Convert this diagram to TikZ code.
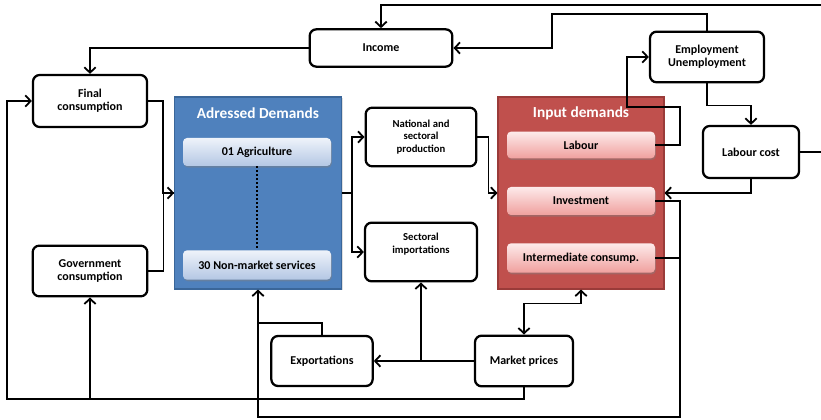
\documentclass[tikz,border=0pt]{standalone}
\usepackage{fontspec}
\setmainfont{Carlito}
\usetikzlibrary{arrows.meta,shadows}

\definecolor{adrblue}{HTML}{4F81BD}
\definecolor{adrblueline}{HTML}{3A6699}
\definecolor{inpred}{HTML}{C0504D}
\definecolor{inpredline}{HTML}{9A3B39}
\definecolor{skytop}{HTML}{EEF3FA}
\definecolor{skybot}{HTML}{B4C7E4}
\definecolor{rosetop}{HTML}{FDEAEA}
\definecolor{rosebot}{HTML}{F0A09E}

\tikzset{
	box/.style={draw=black, line width=1.7pt, rounded corners=5pt, fill=white,
		align=center, font=\fontsize{9}{10}\selectfont\bfseries, inner sep=2pt},
	group/.style={draw=#1line, fill=#1, line width=0.8pt,
		drop shadow={opacity=0.25, shadow xshift=1pt, shadow yshift=-1pt}},
	grouptitle/.style={text=white, font=\fontsize{11.5}{12}\selectfont\bfseries},
	sector/.style={rounded corners=3pt, top color=skytop, bottom color=skybot,
		font=\fontsize{9}{10}\selectfont\bfseries, minimum width=111pt,
		drop shadow={opacity=0.45, shadow xshift=0.6pt, shadow yshift=-1.2pt}},
	factor/.style={sector, top color=rosetop, bottom color=rosebot},
	barb/.tip={Straight Barb[length=4pt,width=8.5pt]},
	conn/.style={line width=1.35pt, -barb},
	link/.style={line width=1.35pt}
}

\begin{document}
\begin{tikzpicture}[x=0.75pt, y=-0.75pt]
	\useasboundingbox (0,0) rectangle (821,420);

	% groups of demands
	\node[group=adrblue, minimum width=125pt, minimum height=144pt] (addr) at (258,193) {};
	\node[grouptitle] (addrtitle) at (258,113) {Adressed Demands};
	\node[sector, minimum height=21pt] (agri) at (257,152) {01 Agriculture};
	\node[sector, minimum height=22pt] (nonmkt) at (257,265) {30 Non-market services};

	\node[group=inpred, minimum width=124.5pt, minimum height=144pt] (inpdem) at (581,193) {};
	\node[grouptitle] (inptitle) at (581,113) {Input demands};
	\node[factor, minimum height=20pt] (labour) at (581,145) {Labour};
	\node[factor, minimum height=21pt] (invest) at (581,201) {Investment};
	\node[factor, minimum height=22pt] (interm) at (581,258) {Intermediate consump.};

	% blocks
	\node[box, minimum width=107pt, minimum height=28pt] (income) at (381,48) {Income};
	\node[box, minimum width=85.5pt, minimum height=39pt] (final) at (90,101) {Final\\consumption};
	\node[box, minimum width=86pt, minimum height=38pt] (gov) at (90,271) {Government\\consumption};
	\node[box, minimum width=83pt, minimum height=44pt, font=\fontsize{8}{9.5}\selectfont\bfseries] (natprod) at (421,137) {National and\\sectoral\\production};
	\node[box, minimum width=84pt, minimum height=44pt, font=\fontsize{8}{9.5}\selectfont\bfseries] (sectimp) at (421,252) {Sectoral\\importations\\[4pt]};
	\node[box, minimum width=85.5pt, minimum height=38pt] (employ) at (707,57) {Employment\\Unemployment};
	\node[box, minimum width=72pt, minimum height=39pt] (lcost) at (751,152) {Labour cost};
	\node[box, minimum width=76pt, minimum height=37.5pt] (export) at (322,361) {Exportations};
	\node[box, minimum width=73.5pt, minimum height=38pt] (mprice) at (524,361) {Market prices};

	\draw[dotted, line width=1pt] (agri.south) -- (nonmkt.north);

	\coordinate (jcost) at (830,5);
	\coordinate (jinc) at (552,14);
	\coordinate (jlab) at (680,107);
	\coordinate (jemp) at (627,107);
	\coordinate (jinv) at (680,417);
	\coordinate (jbot) at (7,399);
	\coordinate (jexp) at (258,323);

	% income loop
	\begin{scope}
		\clip (0,0) rectangle (821,420);
		\draw[conn] (lcost.east) -| (jcost) -| (income.north);
	\end{scope}
	\draw[conn] (employ.north) |- (jinc) |- (income.east);
	\draw[conn] (income.west) -| (final.north);

	% labour market
	\draw[conn] (labour.east) -| (jlab) -- (jemp) |- (employ.west);
	\draw[conn] (employ.south) -- ++(0,22) -| (lcost.north);
	\draw[conn] (lcost.south) |- (inpdem.east);

	% demands
	\draw[conn] (final.east) -- ++(15,0) |- (addr.west);
	\draw[link] (gov.east) -- ++(15,0) |- (addr.west);
	\draw[conn] (addr.east) -- ++(10,0) |- (natprod.west);
	\draw[conn] (addr.east) -- ++(10,0) |- (sectimp.west);
	\draw[conn] (natprod.east) -- ++(11,0) |- (inpdem.west);
	\draw[conn] (invest.east) -| (jinv) -| (addr.south);
	\draw[link] (interm.east) -- (interm.east -| jinv);

	% prices
	\draw[conn] (mprice.south) |- (jbot) |- (final.west);
	\draw[conn] (gov.south |- jbot) -- (gov.south);
	\draw[conn] (mprice.west) -- (export.east);
	\draw[conn] (mprice.west -| sectimp.south) -- (sectimp.south);
	\draw[link] (export.north) |- (jexp);
	\draw[link, barb-barb] (mprice.north) -- ++(0,-31) -| (inpdem.south);
\end{tikzpicture}
\end{document}
